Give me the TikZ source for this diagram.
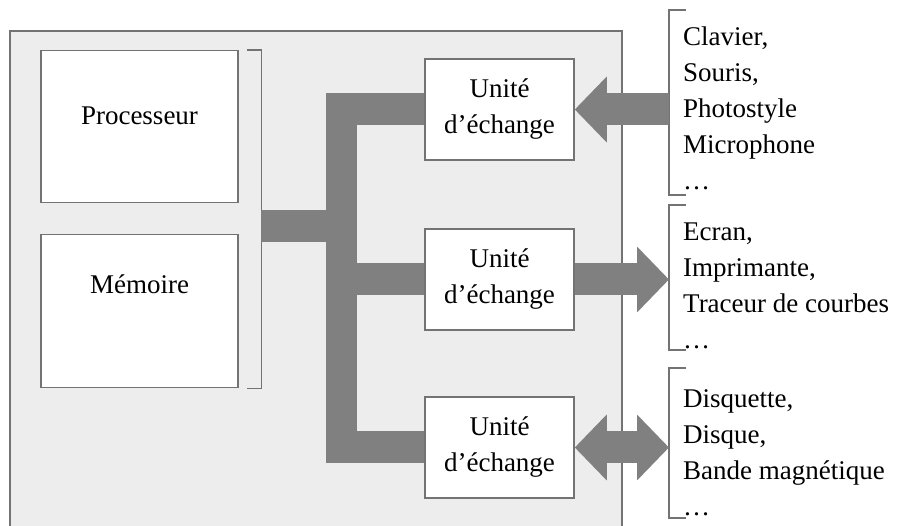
\documentclass[tikz,border=0pt]{standalone}
\usepackage{fontspec}
\setmainfont{Liberation Serif}
\usetikzlibrary{arrows.meta,positioning}

\definecolor{fondgris}{gray}{0.93}
\definecolor{busgris}{gray}{0.5}
\definecolor{traitgris}{gray}{0.45}

\tikzset{
    boite/.style={draw=traitgris, line width=1.5pt, fill=white, inner sep=0pt},
    texte/.style={font=\fontsize{27}{36}\selectfont},
    liste/.style={texte, align=left, inner sep=0pt, anchor=north west},
    crochet/.style={draw=traitgris, line width=1.4pt},
    bus/.style={draw=busgris, line width=32pt},
    grosfleche/.style={draw=busgris, fill=busgris, line width=32pt, -{Triangle[length=32pt,width=64pt]}},
    doublefleche/.style={draw=busgris, fill=busgris, line width=32pt, {Triangle[length=32pt,width=64pt]}-{Triangle[length=32pt,width=64pt]}}
}

\begin{document}
\begin{tikzpicture}[x=1pt,y=-1pt]
    \useasboundingbox (0,0) rectangle (898,526);
    \clip (0,0) rectangle (898,526);

    % Cadre de l'ordinateur
    \draw[draw=traitgris, fill=fondgris, line width=1.5pt] (10,31) rectangle (622,560);

    % Processeur et memoire
    \node[boite, texte, anchor=north, minimum width=197pt, text height=74pt, text depth=78pt] (proc) at (139.5,50) {Processeur};
    \node[boite, texte, anchor=north, minimum width=197pt, text height=59pt, text depth=94pt] (mem) at (139.5,234) {Mémoire};
    \draw[crochet] ([xshift=8pt]proc.north east) -| ([xshift=23pt]mem.south east) -- ([xshift=8pt]mem.south east);

    % Unites d'echange
    \node[boite, texte, align=center, minimum width=149pt, minimum height=101pt] (ue1) at (499.5,109.5) {Unité\\d’échange};
    \node[boite, texte, align=center, minimum width=149pt, minimum height=101pt] (ue2) at (499.5,279.5) {Unité\\d’échange};
    \node[boite, texte, align=center, minimum width=149pt, minimum height=101pt] (ue3) at (499.5,447.5) {Unité\\d’échange};

    % Bus
    \coordinate (pm) at (261,226);
    \coordinate (busx) at (341.5,0);
    \draw[bus] (pm) -- (busx |- pm);
    \draw[bus, line width=31pt, shorten <=-16pt, shorten >=-16pt] (busx |- ue1.west) -- (busx |- ue3.west);
    \foreach \u in {ue1,ue2,ue3}
        \draw[bus] (busx |- \u.west) -- (\u.west);

    % Peripheriques
    \coordinate (cr1h) at (669,10);  \coordinate (cr1b) at (669,195);
    \coordinate (cr2h) at (669,205); \coordinate (cr2b) at (669,350);
    \coordinate (cr3h) at (669,368); \coordinate (cr3b) at (669,518);
    \foreach \h/\b in {cr1h/cr1b,cr2h/cr2b,cr3h/cr3b}
        \draw[crochet] ([xshift=17pt]\h) -- (\h) -- (\b) -- ([xshift=17pt]\b);

    \node[liste] (lst1) at (683,27) {Clavier,\\Souris,\\Photostyle\\Microphone\\\ldots};
    \node[liste] (lst2) at (683,223) {Ecran,\\Imprimante,\\Traceur de courbes\\\ldots};
    \node[liste] (lst3) at (683,389) {Disquette,\\Disque,\\Bande magnétique\\\ldots};

    % Fleches
    \draw[grosfleche] (cr1h |- ue1.east) -- (ue1.east);
    \draw[grosfleche] (ue2.east) -- (cr2h |- ue2.east);
    \draw[doublefleche] (ue3.east) -- (cr3h |- ue3.east);
\end{tikzpicture}
\end{document}
